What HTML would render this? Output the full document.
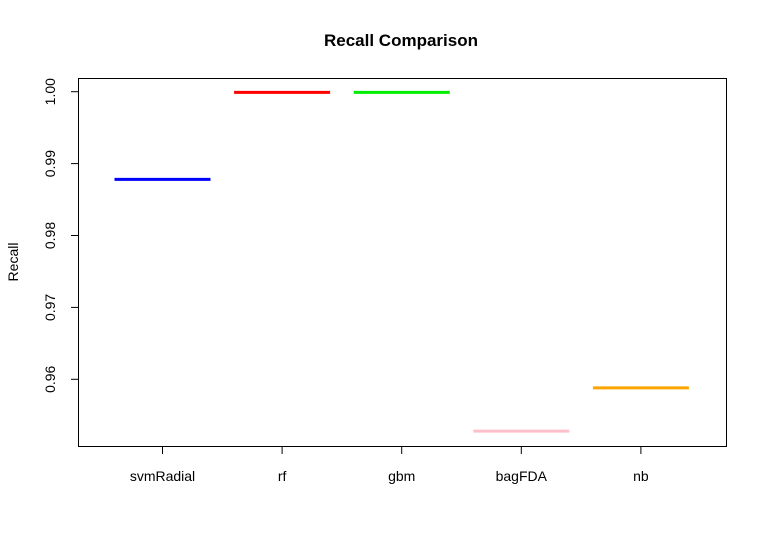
<!DOCTYPE html>
<html><head><meta charset="utf-8"><style>body{margin:0;background:#fff}svg{display:block;font-family:"Liberation Sans",Arial,sans-serif}</style></head>
<body>
<svg width="767" height="544" viewBox="0 0 767 544">
<text x="401" y="46" text-anchor="middle" font-size="17" font-weight="bold">Recall Comparison</text>
<rect x="78.5" y="78.5" width="648" height="368" fill="none" stroke="#000" stroke-width="1"/>
<text transform="translate(18,262) rotate(-90)" text-anchor="middle" font-size="14">Recall</text>
<g id="yaxis"></g><g id="xaxis"></g><g id="marks"></g>
</svg>
<script>
const categories=["svmRadial","rf","gbm","bagFDA","nb"];
const values=[0.9878,0.9999,0.9999,0.9528,0.9588];
const colors=["#0000ff","#ff0000","#00ee00","#ffc0cb","#ffa500"];
const yTicks=[0.96,0.97,0.98,0.99,1.00];
const yTickLabels=["0.96","0.97","0.98","0.99","1.00"];
const NS="http://www.w3.org/2000/svg";
function y(v){return 91.7+(1.0-v)*7190;}
function x(i){return 162.5+i*119.6;}
function mk(t,a,p){const e=document.createElementNS(NS,t);for(const k in a)e.setAttribute(k,a[k]);p.appendChild(e);return e;}
const ya=document.getElementById('yaxis'),xa=document.getElementById('xaxis'),m=document.getElementById('marks');
mk('line',{x1:78.5,x2:78.5,y1:y(yTicks[0]),y2:y(yTicks[4]),stroke:'#000'},ya);
yTicks.forEach((t,i)=>{
const l=mk('line',{x1:71,x2:78.5,y1:y(t),y2:y(t),stroke:'#000'},ya);


const tx=mk('text',{transform:`translate(55,${y(t)}) rotate(-90)`,'text-anchor':'middle','font-size':'14'},ya);
tx.textContent=yTickLabels[i];


});
mk('line',{x1:x(0),x2:x(4),y1:446.5,y2:446.5,stroke:'#000'},xa);
categories.forEach((c,i)=>{
const l=mk('line',{x1:x(i),x2:x(i),y1:446.5,y2:454,stroke:'#000'},xa);


const tx=mk('text',{x:x(i),y:481,'text-anchor':'middle','font-size':'14'},xa);
tx.textContent=c;


const b=mk('line',{x1:x(i)-48,x2:x(i)+48,y1:y(values[i]),y2:y(values[i]),stroke:colors[i],'stroke-width':3},m);


});
</script>
</body></html>
